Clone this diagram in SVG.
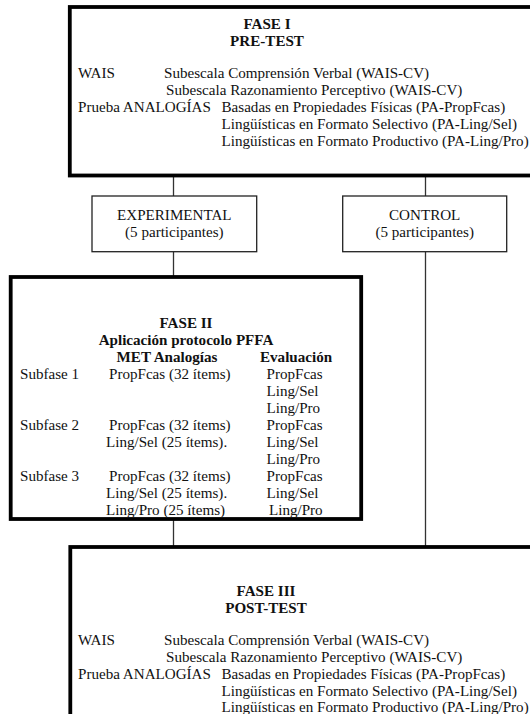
<svg xmlns="http://www.w3.org/2000/svg" width="530" height="714" viewBox="0 0 530 714">
<style>
text{font-family:"Liberation Serif","Times New Roman",serif;font-size:15.1px;fill:#111}
.b{font-weight:bold}
.m{text-anchor:middle}
.heavy{fill:#fff;stroke:#000;stroke-width:3.8}
.thin{fill:#fff;stroke:#222;stroke-width:1.3}
.c{stroke:#333;stroke-width:1.3;fill:none}
</style>
<rect width="530" height="714" fill="#fff"/>
<g id="connectors">
<line class="c" x1="173.5" y1="177" x2="173.5" y2="196"/>
<line class="c" x1="425.5" y1="177" x2="425.5" y2="196"/>
<line class="c" x1="173.5" y1="252" x2="173.5" y2="276"/>
<line class="c" x1="425.5" y1="252" x2="425.5" y2="546"/>
<line class="c" x1="173.5" y1="520" x2="173.5" y2="546"/>
</g>
<g id="fase1">
<rect class="heavy" x="69.8" y="7" width="480" height="168.5"/>
<text class="b m" x="267" y="29">FASE I</text>
<text class="b m" x="267" y="46">PRE-TEST</text>
<text x="78" y="78">WAIS</text>
<text x="164" y="78">Subescala Comprensión Verbal (WAIS-CV)</text>
<text x="166" y="95">Subescala Razonamiento Perceptivo (WAIS-CV)</text>
<text x="78" y="112">Prueba ANALOGÍAS</text>
<text x="221.5" y="112">Basadas en Propiedades Físicas (PA-PropFcas)</text>
<text x="221.5" y="129">Lingüísticas en Formato Selectivo (PA-Ling/Sel)</text>
<text x="221.5" y="146">Lingüísticas en Formato Productivo (PA-Ling/Pro)</text>
</g>
<g id="experimental">
<rect class="thin" x="92" y="196" width="164.7" height="55.7"/>
<text class="m" x="174.3" y="220">EXPERIMENTAL</text>
<text class="m" x="174.3" y="237">(5 participantes)</text>
</g>
<g id="control">
<rect class="thin" x="342.7" y="196" width="164" height="55.7"/>
<text class="m" x="424.7" y="220">CONTROL</text>
<text class="m" x="424.7" y="237">(5 participantes)</text>
</g>
<g id="fase2">
<rect class="heavy" x="10.7" y="277" width="350.5" height="242"/>
<text class="b m" x="186" y="328">FASE II</text>
<text class="b m" x="186" y="345">Aplicación protocolo PFFA</text>
<text class="b m" x="167" y="362">MET Analogías</text>
<text class="b" x="260" y="362">Evaluación</text>
<text x="20" y="379">Subfase 1</text>
<text x="109" y="379">PropFcas (32 ítems)</text>
<text x="266.5" y="379">PropFcas</text>
<text x="266.5" y="396">Ling/Sel</text>
<text x="266.5" y="413">Ling/Pro</text>
<text x="20" y="430">Subfase 2</text>
<text x="109" y="430">PropFcas (32 ítems)</text>
<text x="266.5" y="430">PropFcas</text>
<text x="106" y="447">Ling/Sel (25 ítems).</text>
<text x="266.5" y="447">Ling/Sel</text>
<text x="266.5" y="464">Ling/Pro</text>
<text x="20" y="481">Subfase 3</text>
<text x="109" y="481">PropFcas (32 ítems)</text>
<text x="266.5" y="481">PropFcas</text>
<text x="106" y="498">Ling/Sel (25 ítems).</text>
<text x="266.5" y="498">Ling/Sel</text>
<text x="106" y="515">Ling/Pro (25 ítems)</text>
<text x="269" y="515">Ling/Pro</text>
</g>
<g id="fase3">
<rect class="heavy" x="70.3" y="547" width="480" height="200"/>
<text class="b m" x="266" y="596">FASE III</text>
<text class="b m" x="266" y="613">POST-TEST</text>
<text x="78" y="644.5">WAIS</text>
<text x="164" y="644.5">Subescala Comprensión Verbal (WAIS-CV)</text>
<text x="166" y="661.5">Subescala Razonamiento Perceptivo (WAIS-CV)</text>
<text x="78" y="678.5">Prueba ANALOGÍAS</text>
<text x="221.5" y="678.5">Basadas en Propiedades Físicas (PA-PropFcas)</text>
<text x="221.5" y="695.5">Lingüísticas en Formato Selectivo (PA-Ling/Sel)</text>
<text x="221.5" y="712">Lingüísticas en Formato Productivo (PA-Ling/Pro)</text>
</g>
</svg>
